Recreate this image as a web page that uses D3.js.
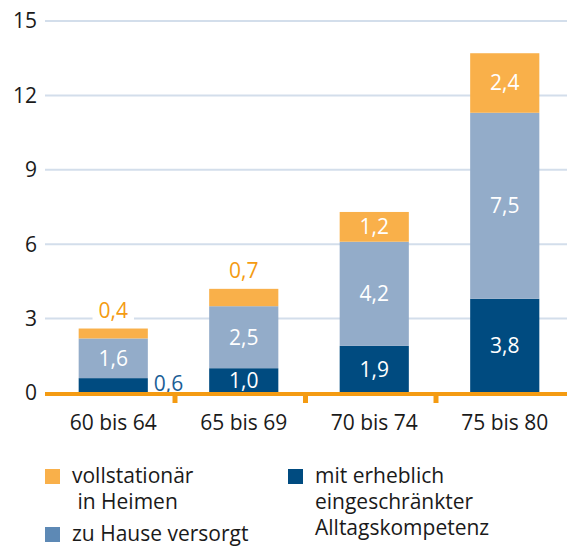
<!DOCTYPE html>
<html>
<head>
<meta charset="utf-8">
<script src="https://cdn.jsdelivr.net/npm/d3@7"></script>
<style>
  html, body { margin: 0; padding: 0; background: #fff; }
  svg { display: block; font-family: "Open Sans", sans-serif; }
</style>
</head>
<body>
<svg id="chart" width="567" height="547"></svg>
<script>
// Pflegebedürftige nach Altersgruppe (in %)
const categories = ["60 bis 64", "65 bis 69", "70 bis 74", "75 bis 80"];
const eingeschraenkt = [0.6, 1.0, 1.9, 3.8];   // mit erheblich eingeschränkter Alltagskompetenz
const zuHause = [1.6, 2.5, 4.2, 7.5];          // zu Hause versorgt
const heime = [0.4, 0.7, 1.2, 2.4];            // vollstationär in Heimen
const yTicks = [0, 3, 6, 9, 12, 15];

const seriesKeys = ["eingeschraenkt", "zuHause", "heime"];
const colors = { eingeschraenkt: "#004b80", zuHause: "#93acc9", heime: "#f9b04a" };
const table = categories.map((c, i) => ({
  cat: c, eingeschraenkt: eingeschraenkt[i], zuHause: zuHause[i], heime: heime[i]
}));

const FS = 21;
const svg = d3.select("#chart");
const fmt = v => d3.format(".1f")(v).replace(".", ",");

const x = d3.scaleBand().domain(categories).range([48, 570]).paddingInner(0.47).paddingOuter(0.235);
const xBand = d3.scaleBand().domain(categories).range([46, 568]);
const y = d3.scaleLinear().domain([0, 15]).range([393, 21]);

// Gridlines and y labels
svg.append("g").selectAll("line").data(yTicks.filter(t => t > 0)).join("line")
  .attr("x1", 45).attr("x2", 567)
  .attr("y1", d => y(d)).attr("y2", d => y(d))
  .attr("stroke", "#d3deeb").attr("stroke-width", 2);

svg.append("g").selectAll("text").data(yTicks).join("text")
  .attr("x", 37).attr("y", d => y(d)).attr("dy", "0.35em")
  .attr("text-anchor", "end").attr("font-size", FS).attr("fill", "#1a1a1a")
  .text(d => d);

// Stacked bars
const stack = d3.stack().keys(seriesKeys)(table);
const layers = svg.append("g").selectAll("g").data(stack).join("g")
  .attr("fill", d => colors[d.key]);
layers.selectAll("rect").data(d => d).join("rect")
  .attr("x", d => x(d.data.cat))
  .attr("width", x.bandwidth())
  .attr("y", d => y(d[1]))
  .attr("height", d => y(d[0]) - y(d[1]));

// Value labels
const minInside = 0.95;
stack.forEach(layer => {
  layer.forEach((d, i) => {
    const v = d[1] - d[0];
    const cx = x(d.data.cat) + x.bandwidth() / 2;
    if (v >= minInside) {
      svg.append("text")
        .attr("x", cx).attr("y", y((d[0] + d[1]) / 2)).attr("dy", "0.35em")
        .attr("text-anchor", "middle").attr("font-size", FS).attr("fill", "#fff")
        .text(fmt(v));
    } else if (layer.key === "heime") {
      const ty = y(d[1]) - 18;
      const t = svg.append("text")
        .attr("x", cx).attr("y", ty).attr("dy", "0.35em")
        .attr("text-anchor", "middle").attr("font-size", FS).attr("fill", "#f49b12")
        .text(fmt(v));
      const bb = t.node().getBBox();
      svg.insert("rect", () => t.node())
        .attr("x", bb.x - 6).attr("y", bb.y).attr("width", bb.width + 12).attr("height", bb.height)
        .attr("fill", "#fff");
    } else {
      svg.append("text")
        .attr("x", x(d.data.cat) + x.bandwidth() + 6).attr("y", y((d[0] + d[1]) / 2) - 2).attr("dy", "0.35em")
        .attr("text-anchor", "start").attr("font-size", FS).attr("fill", "#1c5e96")
        .text(fmt(v));
    }
  });
});

// Baseline axis with separators
svg.append("line").attr("x1", 45).attr("x2", 567).attr("y1", y(0) + 1).attr("y2", y(0) + 1)
  .attr("stroke", "#f49b12").attr("stroke-width", 4);
svg.append("g").selectAll("line").data(categories.slice(1)).join("line")
  .attr("x1", d => xBand(d) - 1.5).attr("x2", d => xBand(d) - 1.5)
  .attr("y1", y(0)).attr("y2", y(0) + 10)
  .attr("stroke", "#f49b12").attr("stroke-width", 5);

svg.append("g").selectAll("text").data(categories).join("text")
  .attr("x", d => x(d) + x.bandwidth() / 2).attr("y", 430)
  .attr("text-anchor", "middle").attr("font-size", FS).attr("fill", "#1a1a1a")
  .text(d => d);

// Legend
const legend = [
  { color: "#f9b04a", x: 45, y: 469, lines: ["vollstationär", " in Heimen"] },
  { color: "#5d89b5", x: 45, y: 527, lines: ["zu Hause versorgt"] },
  { color: "#004b80", x: 288, y: 469, lines: ["mit erheblich", "eingeschränkter", "Alltagskompetenz"] }
];
const lg = svg.append("g").selectAll("g").data(legend).join("g");
lg.append("rect").attr("x", d => d.x).attr("y", d => d.y).attr("width", 15).attr("height", 15)
  .attr("fill", d => d.color);
lg.each(function (d) {
  const t = d3.select(this).append("text").attr("font-size", FS).attr("fill", "#1a1a1a")
    .attr("xml:space", "preserve");
  d.lines.forEach((l, i) => {
    t.append("tspan").attr("x", d.x + 27).attr("y", d.y + 14 + i * 26).text(l);
  });
});
</script>
</body>
</html>
